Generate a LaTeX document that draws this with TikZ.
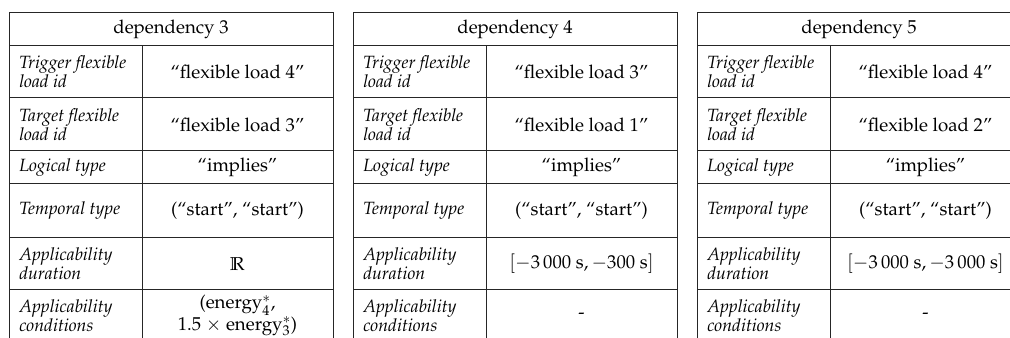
\documentclass[tikz,border=0pt]{standalone}
\usepackage[T1]{fontenc}
\usepackage{mathpazo}
\usepackage{amssymb}
\tikzset{
  grid/.style={draw=black!85, line width=0.75pt},
  lab/.style={anchor=west, align=left, font=\itshape\fontsize{13.3}{14}\selectfont, inner sep=0pt},
  val/.style={align=center, font=\fontsize{14}{15}\selectfont, inner sep=0pt},
  hd/.style={font=\fontsize{14}{15}\selectfont, inner sep=0pt}
}
\newcommand\DepTable[7]{%
  \begin{scope}[shift={(#2,0)}]
    \draw[grid] (0,338) -- (0,13) -- (324,13) -- (324,338);
    \foreach \yy in {46,98,151,184,238,290} \draw[grid] (0,\yy) -- (324,\yy);
    \draw[grid] (133,46) -- (133,338);
    \node[hd] (#1h) at (162,29.5) {#3};
    \node[lab] (#1l1) at (10,72) {Trigger flexible\\load id};
    \node[lab] (#1l2) at (10,124.5) {Target flexible\\load id};
    \node[lab] (#1l3) at (10,167.5) {Logical type};
    \node[lab] (#1l4) at (10,211) {Temporal type};
    \node[lab] (#1l5) at (10,264) {Applicability\\duration};
    \node[lab] (#1l6) at (10,316) {Applicability\\conditions};
    \node[val] (#1v1) at (228.5,72) {#4};
    \node[val] (#1v2) at (228.5,124.5) {#5};
    \node[val] (#1v3) at (228.5,167.5) {``implies''};
    \node[val] (#1v4) at (228.5,211) {(``start'', ``start'')};
    \node[val] (#1v5) at (228.5,264) {#6};
    \node[val] (#1v6) at (228.5,316) {#7};
  \end{scope}}
\begin{document}
\begin{tikzpicture}[x=0.75pt,y=-0.75pt]
  \useasboundingbox (0,0) rectangle (1010,338);
  \clip (0,0) rectangle (1010,338);
  \DepTable{a}{9}{dependency 3}{``flexible load 4''}{``flexible load 3''}{$\mathbb{R}$}{}
  \node[val, anchor=base] (av6a) at (237.5,309) {(energy$\smash{^*_4}$,};
  \node[val, anchor=base] (av6b) at (237.5,330) {1.5 $\times$ energy$\smash{^*_3}$)};
  \DepTable{b}{353}{dependency 4}{``flexible load 3''}{``flexible load 1''}{$[-3\,000\ \mathrm{s}, -300\ \mathrm{s}]$}{-}
  \DepTable{c}{697}{dependency 5}{``flexible load 4''}{``flexible load 2''}{$[-3\,000\ \mathrm{s}, -3\,000\ \mathrm{s}]$}{-}
\end{tikzpicture}
\end{document}
